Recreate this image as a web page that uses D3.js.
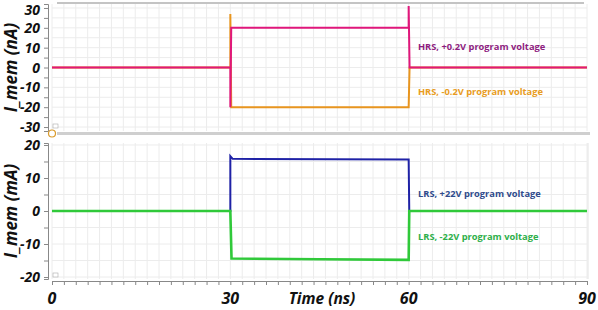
<!DOCTYPE html>
<html>
<head>
<meta charset="utf-8">
<script src="https://cdn.jsdelivr.net/npm/d3@7"></script>
<style>
  body { margin: 0; background: #fff; }
  text { font-family: "Open Sans", sans-serif; }
</style>
</head>
<body>
<div id="chartArea"></div>
<script>
// time (ns) / current step traces
var hrsPosT = [0, 30, 30, 30.15, 60, 60, 60.15, 90];
var hrsPosI = [0, 0, -20, 20, 20, 31, 0, 0];
var hrsNegT = [0, 30, 30, 30.15, 60, 60.15, 90];
var hrsNegI = [0, 0, 27, -20, -20, 0, 0];
var lrsPosT = [0, 30, 30, 30.4, 60, 60.1, 90];
var lrsPosI = [0, 0, 16.6, 15.8, 15.6, 0, 0];
var lrsNegT = [0, 30, 30.2, 45, 60, 60.1, 90];
var lrsNegI = [0, 0, -14.4, -14.6, -14.8, 0, 0];

var topTicks = [30, 20, 10, 0, -10, -20, -30];
var botTicks = [20, 10, 0, -10, -20];
var timeTicks = [0, 30, 60, 90];

var labels = [
  {text: 'HRS, +0.2V program voltage', color: '#8e1d7f', panel: 'top', v: 11},
  {text: 'HRS, -0.2V program voltage', color: '#e89c22', panel: 'top', v: -12},
  {text: 'LRS, +22V program voltage', color: '#2f4b8c', panel: 'bot', v: 5.6},
  {text: 'LRS, -22V program voltage', color: '#2eaf4a', panel: 'bot', v: -7.6}
];

var W = 598, H = 310;
var svg = d3.select('#chartArea').append('svg')
    .attr('width', W)
    .attr('height', H);

var xScale = d3.scaleLinear().domain([0, 90]).range([52, 587]);
var yTop = d3.scaleLinear().domain([-32, 32]).range([131, 4]);
var yBot = d3.scaleLinear().domain([-20.6, 20.6]).range([279, 143]);

function zip(t, v) {
    return t.map(function (d, i) { return [d, v[i]]; });
}

function panel(yScale, step, ticks) {
    var g = svg.append('g');
    var y0 = yScale.domain()[0], y1 = yScale.domain()[1];
    // grid
    g.selectAll('line.vg')
        .data(d3.range(0, 91, 2))
        .enter().append('line')
        .attr('x1', function (d) { return xScale(d); })
        .attr('x2', function (d) { return xScale(d); })
        .attr('y1', yScale(y1))
        .attr('y2', yScale(y0))
        .attr('stroke', '#ececec')
        .attr('stroke-width', 1);
    g.selectAll('line.hg')
        .data(d3.range(Math.ceil(y0 / step) * step, y1 + 0.01, step))
        .enter().append('line')
        .attr('x1', xScale(0))
        .attr('x2', xScale(90))
        .attr('y1', function (d) { return yScale(d); })
        .attr('y2', function (d) { return yScale(d); })
        .attr('stroke', '#ececec')
        .attr('stroke-width', 1);
    // y axis
    var yAxis = d3.axisLeft(yScale)
        .tickValues(d3.range(Math.ceil(y0 / step) * step, y1 + 0.01, step))
        .tickSize(4)
        .tickFormat('');
    var ax = g.append('g')
        .attr('transform', 'translate(48, 0)')
        .call(yAxis);
    ax.select('.domain').attr('stroke', '#888');
    ax.selectAll('.tick line').attr('stroke', '#888');
    g.selectAll('text.ytl')
        .data(ticks)
        .enter().append('text')
        .attr('x', 40)
        .attr('y', function (d) { return Math.max(yScale(d) + 5, 15); })
        .attr('text-anchor', 'end')
        .attr('font-size', 14)
        .attr('font-weight', 'bold')
        .attr('font-style', 'italic')
        .attr('fill', '#111')
        .text(function (d) { return d; });
    return g;
}

panel(yTop, 5, topTicks);
panel(yBot, 5, botTicks);

// panel frame lines
svg.append('line').attr('x1', 57).attr('x2', 584).attr('y1', 3).attr('y2', 3)
    .attr('stroke', '#c4c4c4').attr('stroke-width', 2);
svg.append('line').attr('x1', 57).attr('x2', 590).attr('y1', 133.5).attr('y2', 133.5)
    .attr('stroke', '#cfcfcf').attr('stroke-width', 3);
svg.append('line').attr('x1', 588).attr('x2', 588).attr('y1', 143).attr('y2', 279)
    .attr('stroke', '#e4e4e4').attr('stroke-width', 1);

var line = function (yScale) {
    return d3.line()
        .x(function (d) { return xScale(d[0]); })
        .y(function (d) { return yScale(d[1]); });
};

function trace(t, v, yScale, color, w) {
    svg.append('path')
        .datum(zip(t, v))
        .attr('d', line(yScale))
        .attr('fill', 'none')
        .attr('stroke', color)
        .attr('stroke-width', w);
}

trace(hrsNegT, hrsNegI, yTop, '#e8951f', 2);
trace(hrsPosT, hrsPosI, yTop, '#e0177b', 2);
trace(lrsPosT, lrsPosI, yBot, '#1f22a6', 2);
trace(lrsNegT, lrsNegI, yBot, '#30c93a', 2.6);

// legend texts
svg.selectAll('text.lbl')
    .data(labels)
    .enter().append('text')
    .attr('x', 418)
    .attr('y', function (d) { return (d.panel === 'top' ? yTop(d.v) : yBot(d.v)) + 4; })
    .attr('font-size', 9.3)
    .attr('font-weight', 'bold')
    .attr('fill', function (d) { return d.color; })
    .text(function (d) { return d.text; });

// x axis
var xAxis = d3.axisBottom(xScale)
    .tickValues(d3.range(0, 91, 2))
    .tickSize(4)
    .tickFormat('');
var xa = svg.append('g')
    .attr('transform', 'translate(0, 281)')
    .call(xAxis);
xa.select('.domain').attr('stroke', '#888');
xa.selectAll('.tick line').attr('stroke', '#888');

svg.selectAll('text.xtl')
    .data(timeTicks)
    .enter().append('text')
    .attr('x', function (d) { return xScale(d); })
    .attr('y', 304)
    .attr('text-anchor', 'middle')
    .attr('font-size', 16)
    .attr('font-weight', 'bold')
    .attr('font-style', 'italic')
    .attr('fill', '#111')
    .text(function (d) { return d; });

svg.append('text')
    .attr('x', 322)
    .attr('y', 304)
    .attr('text-anchor', 'middle')
    .attr('font-size', 15.5)
    .attr('font-weight', 'bold')
    .attr('font-style', 'italic')
    .attr('fill', '#111')
    .text('Time (ns)');

// y titles
[['I_mem (nA)', yTop(0)], ['I_mem (mA)', yBot(0)]].forEach(function (d) {
    svg.append('text')
        .attr('transform', 'translate(17, ' + d[1] + ') rotate(-90)')
        .attr('text-anchor', 'middle')
        .attr('font-size', 17)
        .attr('font-weight', 'bold')
        .attr('font-style', 'italic')
        .attr('fill', '#111')
        .text(d[0]);
});

// little marker artifacts
svg.append('circle').attr('cx', 52).attr('cy', 133.5).attr('r', 3.5)
    .attr('fill', '#fff').attr('stroke', '#d99a2b').attr('stroke-width', 1.2);
[[53, 124], [53, 273]].forEach(function (p) {
    svg.append('rect').attr('x', p[0]).attr('y', p[1]).attr('width', 5).attr('height', 4)
        .attr('fill', '#fff').attr('stroke', '#aaa').attr('stroke-width', 0.6);
});
</script>
</body>
</html>
